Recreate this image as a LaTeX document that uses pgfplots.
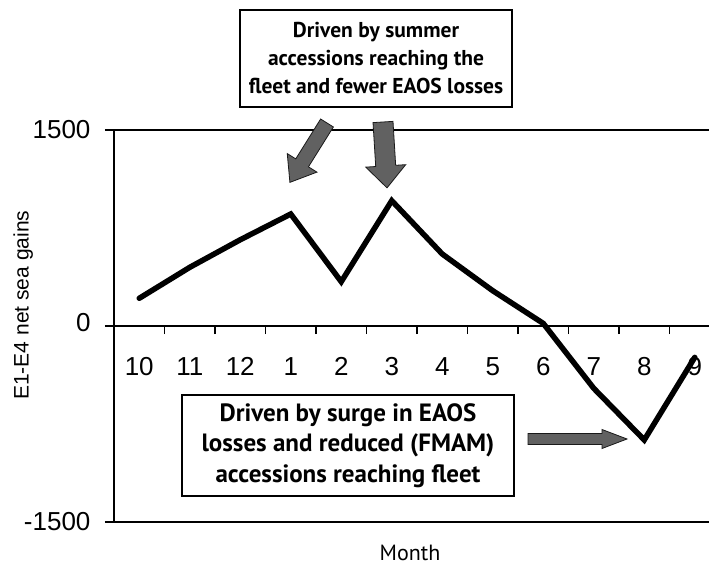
\documentclass[border=0pt]{standalone}
\usepackage{fontspec}
\usepackage{pgfplots}
\pgfplotsset{compat=1.18}
\newfontfamily\arialf{Liberation Sans}
\newfontfamily\optf{PT Sans}
\begin{document}
\begin{tikzpicture}[x=1pt,y=1pt]
\useasboundingbox (0,0) rectangle (709,568);
\begin{axis}[
  at={(114pt,46pt)}, anchor=south west,
  scale only axis, width=606pt, height=392pt,
  xmin=-0.5, xmax=11.5, ymin=-1500, ymax=1500,
  axis x line*=middle, axis y line*=left,
  axis line style={line width=1.6pt, black},
  xtick={0,...,11},
  xticklabels={10,11,12,1,2,3,4,5,6,7,8,9},
  minor xtick={0.5,1.5,...,10.5},
  major x tick style={draw=none},
  minor x tick style={black, line width=1.2pt},
  minor tick length=8pt,
  major tick length=9pt,
  tick align=outside,
  ytick={-1500,0,1500},
  yticklabels={-1500,\raisebox{8pt}{0},1500},
  ymajorgrids, grid style={black, line width=1.6pt},
  y tick style={black, line width=1.2pt},
  /pgf/number format/assume math mode=true,
  tick label style={font=\arialf\fontsize{26}{30}\selectfont},
  xticklabel style={anchor=base, yshift=-40pt},
  yticklabel style={xshift=-11pt},
  xlabel={Month}, ylabel={E1-E4 net sea gains},
  every axis x label/.style={at={(axis description cs:0.4884,-0.079)}, anchor=center, font=\optf\fontsize{22}{26}\selectfont},
  every axis y label/.style={at={(axis description cs:-0.150,0.553)}, anchor=center, rotate=90, font=\arialf\fontsize{21}{25}\selectfont},
]
\addplot[black, line width=5.5pt, line cap=round, line join=miter] coordinates {(0,212) (1,449) (2,660) (3,857) (4,339) (5,959) (6,551) (7,270) (8,20) (9,-477) (10,-872) (11,-240)};
\end{axis}
\tikzset{arr/.style={fill=black!62, draw=black!90, line width=0.8pt}}
\node[draw=black, line width=1.5pt, minimum width=272pt, minimum height=97pt, inner sep=0pt, align=center, font=\optf\bfseries\fontsize{21.5}{28}\selectfont] at (376,509.5) {Driven by summer\\accessions reaching the\\fleet and fewer EAOS losses};
\node[draw=black, line width=1.5pt, minimum width=332pt, minimum height=101pt, inner sep=0pt, align=center, font=\optf\bfseries\fontsize{25}{30.5}\selectfont] at (348,122.5) {Driven by surge in EAOS\\losses and reduced (FMAM)\\accessions reaching fleet};
\begin{scope}[shift={(327,445)}, rotate=-122]
\filldraw[arr] (0,-7.5) -- (47,-7.5) -- (47,-17.5) -- (70,0) -- (47,17.5) -- (47,7.5) -- (0,7.5) -- cycle;
\end{scope}
\begin{scope}[shift={(383,446)}, rotate=-86.5]
\filldraw[arr] (0,-10) -- (44,-10) -- (44,-20) -- (66,0) -- (44,20) -- (44,10) -- (0,10) -- cycle;
\end{scope}
\begin{scope}[shift={(528,129)}]
\filldraw[arr] (0,-5.5) -- (74,-5.5) -- (74,-9.5) -- (99,0) -- (74,9.5) -- (74,5.5) -- (0,5.5) -- cycle;
\end{scope}
\end{tikzpicture}
\end{document}
